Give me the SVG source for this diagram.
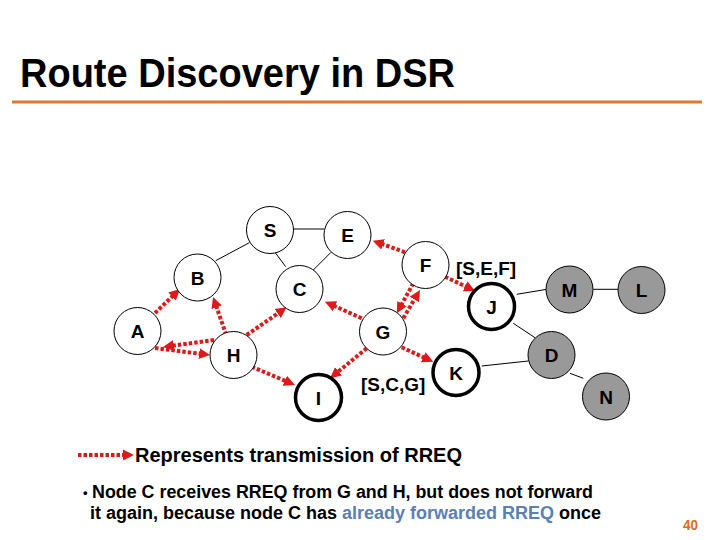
<svg xmlns="http://www.w3.org/2000/svg" width="720" height="540" viewBox="0 0 720 540">
<style>
text{font-family:"Liberation Sans",Arial,sans-serif;font-weight:bold;fill:#000}
.node circle{fill:#fff;stroke:#000;stroke-width:1}
.node.thick circle{stroke-width:3.5}
.node.gray circle{fill:#999}
.lbl{font-size:19px;text-anchor:middle}
.edge{stroke:#000;stroke-width:1;fill:none}
.rreq{stroke:#dd1a1a;stroke-width:4;stroke-dasharray:3.5 2;fill:none;marker-end:url(#ah)}
.path{font-size:19px}
</style>
<defs>
<marker id="ah" markerUnits="userSpaceOnUse" markerWidth="12" markerHeight="12" refX="2" refY="6" orient="auto">
<path d="M0,0.5 L11,6 L0,11.5 z" fill="#dd1a1a"/>
</marker>
</defs>
<rect width="720" height="540" fill="#fff"/>
<text x="20" y="87" font-size="40" textLength="435" lengthAdjust="spacingAndGlyphs">Route Discovery in DSR</text>
<line x1="12" y1="102" x2="702" y2="102" stroke="#e07a30" stroke-width="3"/>
<g id="connectors">
<line class="edge" x1="293" y1="229" x2="324" y2="229"/>
<line class="edge" x1="249.3" y1="242.7" x2="215.7" y2="260.7"/>
<line class="edge" x1="275" y1="252.3" x2="285.7" y2="266.7"/>
<line class="edge" x1="331" y1="252.3" x2="313.3" y2="270"/>
<line class="edge" x1="516.7" y1="294.3" x2="546.7" y2="289.3"/>
<line class="edge" x1="593.3" y1="289.3" x2="618.3" y2="289.3"/>
<line class="edge" x1="513.3" y1="323.3" x2="535" y2="337.7"/>
<line class="edge" x1="481.7" y1="366" x2="528.3" y2="361"/>
<line class="edge" x1="570" y1="373.3" x2="583.3" y2="378.3"/>
<path class="rreq" d="M155,313 L173.5,295.2"/>
<path class="rreq" d="M228,340 L216,305.5"/>
<path class="rreq" d="M214,340 L171.9,345.7"/>
<path class="rreq" d="M155,348 L201.1,353.9"/>
<path class="rreq" d="M246.7,335 L279.3,312.4"/>
<path class="rreq" d="M361.7,318.3 L333.2,305.4"/>
<path class="rreq" d="M366.7,348.3 L337,372.6"/>
<path class="rreq" d="M251.7,366.7 L286.7,381.5"/>
<path class="rreq" d="M403.3,318.3 L415.4,297.7"/>
<path class="rreq" d="M413.3,283.3 L401.1,305.4"/>
<path class="rreq" d="M405,252.3 L381.2,243.7"/>
<path class="rreq" d="M445,276.7 L466.9,287.1"/>
<path class="rreq" d="M401.7,347.3 L425.1,358"/>
<path class="rreq" d="M78,455 L125,455"/>
</g>
<g id="node-S" class="node"><circle cx="270" cy="230" r="23.5"/><text class="lbl" x="270" y="237">S</text></g>
<g id="node-E" class="node"><circle cx="347.5" cy="235" r="23.5"/><text class="lbl" x="347.5" y="242">E</text></g>
<g id="node-B" class="node"><circle cx="197.5" cy="277.5" r="23.5"/><text class="lbl" x="197.5" y="284.5">B</text></g>
<g id="node-C" class="node"><circle cx="299.5" cy="289" r="23.5"/><text class="lbl" x="299.5" y="296">C</text></g>
<g id="node-A" class="node"><circle cx="137.5" cy="331" r="23.5"/><text class="lbl" x="137.5" y="338">A</text></g>
<g id="node-H" class="node"><circle cx="233.5" cy="355" r="23.5"/><text class="lbl" x="233.5" y="362">H</text></g>
<g id="node-G" class="node"><circle cx="383" cy="331.5" r="23.5"/><text class="lbl" x="383" y="338.5">G</text></g>
<g id="node-F" class="node"><circle cx="425.5" cy="265" r="23.5"/><text class="lbl" x="425.5" y="272">F</text></g>
<g id="node-J" class="node thick"><circle cx="491.5" cy="306.5" r="23"/><text class="lbl" x="491.5" y="313.5">J</text></g>
<g id="node-K" class="node thick"><circle cx="456" cy="372.5" r="23"/><text class="lbl" x="456" y="379.5">K</text></g>
<g id="node-I" class="node thick"><circle cx="318.5" cy="397.5" r="23"/><text class="lbl" x="318.5" y="404.5">I</text></g>
<g id="node-M" class="node gray"><circle cx="569.5" cy="289.5" r="23.5"/><text class="lbl" x="569.5" y="296.5">M</text></g>
<g id="node-L" class="node gray"><circle cx="641.5" cy="290" r="23.5"/><text class="lbl" x="641.5" y="297">L</text></g>
<g id="node-D" class="node gray"><circle cx="551.5" cy="355" r="23.5"/><text class="lbl" x="551.5" y="362">D</text></g>
<g id="node-N" class="node gray"><circle cx="606" cy="396.5" r="23.5"/><text class="lbl" x="606" y="403.5">N</text></g>
<text class="path" x="456" y="275">[S,E,F]</text>
<text class="path" x="361" y="391">[S,C,G]</text>
<text x="135" y="462" font-size="20" textLength="327" lengthAdjust="spacingAndGlyphs">Represents transmission of RREQ</text>
<text x="83" y="497" font-size="13">•</text>
<text x="92" y="498" font-size="18" textLength="501" lengthAdjust="spacingAndGlyphs">Node C receives RREQ from G and H, but does not forward</text>
<text x="90" y="519" font-size="18" textLength="511" lengthAdjust="spacingAndGlyphs">it again, because node C has <tspan fill="#5a80b5">already forwarded RREQ</tspan> once</text>
<text x="698" y="530" font-size="14" fill="#e06a1a" text-anchor="end" textLength="15" lengthAdjust="spacingAndGlyphs" style="fill:#e06a1a">40</text>
</svg>
